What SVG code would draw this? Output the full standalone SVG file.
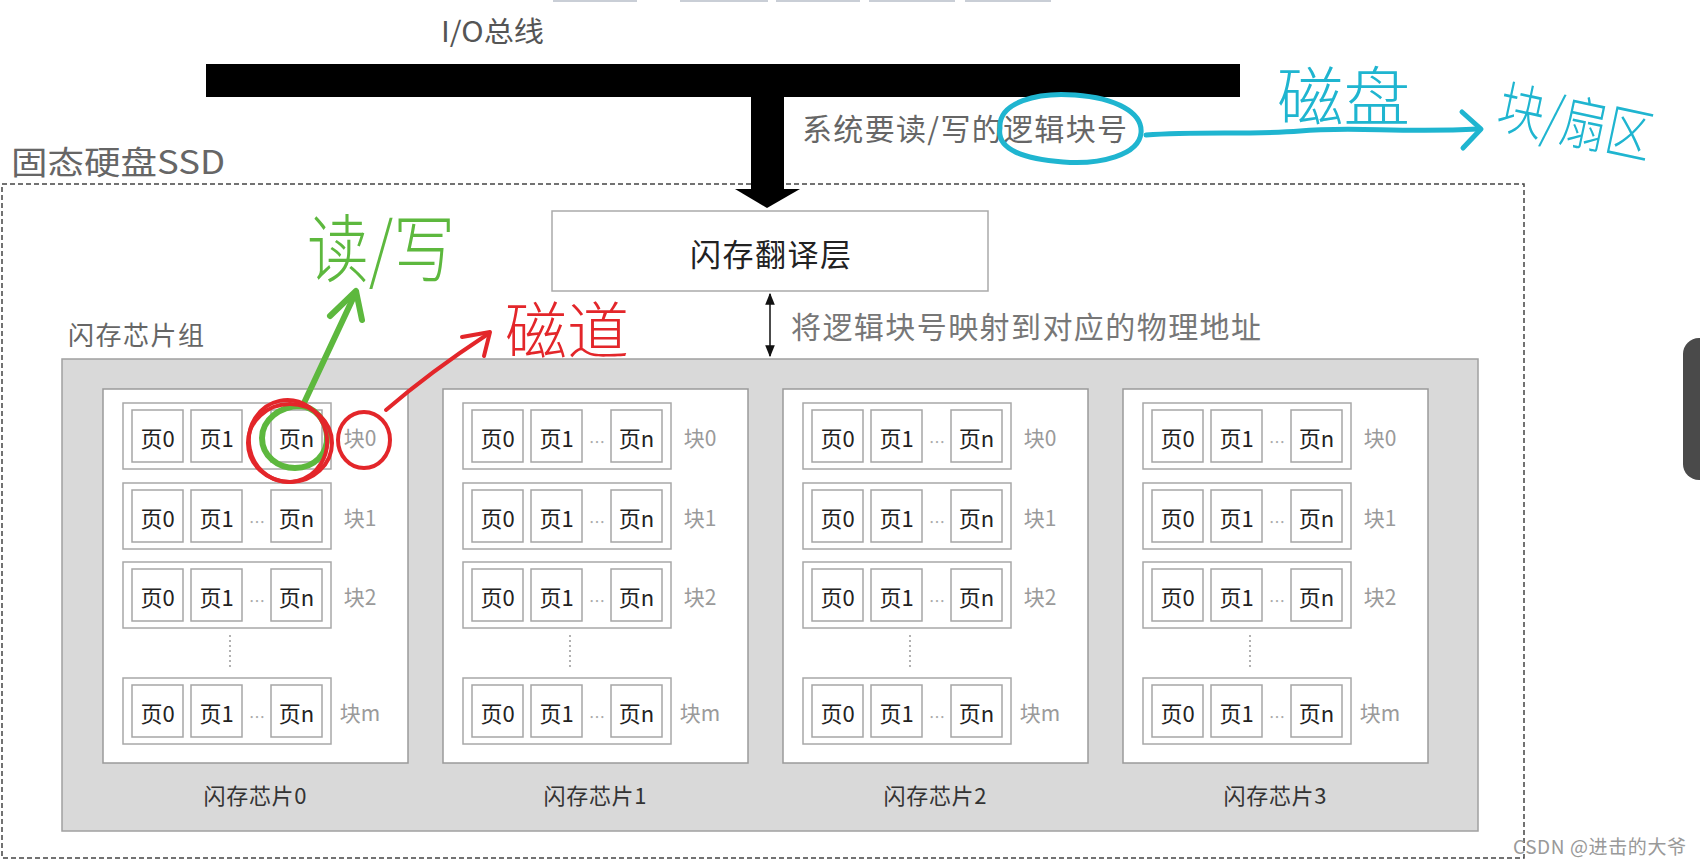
<svg xmlns="http://www.w3.org/2000/svg" width="1700" height="863" viewBox="0 0 1700 863">
<defs>
<style>
.cjk{font-family:"Noto Sans CJK SC","Noto Sans",sans-serif;dominant-baseline:central}
.pg{fill:#fff;stroke:#a6a6a6;stroke-width:1.5}
.blk{fill:#fff;stroke:#a8a8a8;stroke-width:1.5}
.chip{fill:#fff;stroke:#9a9a9a;stroke-width:1.5}
.pt{font-size:22px;fill:#222;text-anchor:middle}
.bt{font-size:21px;fill:#9a9a9a;text-anchor:middle}
.dots{font-size:16px;fill:#aaa;text-anchor:middle}
.ct{font-size:22px;fill:#333;text-anchor:middle}
.vd{stroke:#999;stroke-width:1.5;stroke-dasharray:2 3}
.hw{fill:none;stroke-linecap:round;stroke-linejoin:round}
.hwt{font-weight:300}
</style>
<marker id="ah" viewBox="0 0 10 10" refX="9" refY="5" markerWidth="8" markerHeight="8" orient="auto-start-reverse">
<path d="M0,1 L10,5 L0,9 Z" fill="#111"/>
</marker>
</defs>
<rect width="1700" height="863" fill="#fff"/>

<g id="topstrip" fill="#c9ced6">
<rect x="553" y="0" width="84" height="2"/>
<rect x="680" y="0" width="88" height="2"/>
<rect x="776" y="0" width="84" height="2"/>
<rect x="869" y="0" width="86" height="2"/>
<rect x="965" y="0" width="86" height="2"/>
</g>
<rect id="sidetab" x="1683" y="338" width="40" height="142" rx="16" fill="#4a4a4a"/>

<g id="iobus">
<text class="cjk" x="441" y="30" font-size="28" fill="#555" textLength="103" lengthAdjust="spacingAndGlyphs">I/O总线</text>
<rect x="206" y="64" width="1034" height="33" fill="#000"/>
</g>

<g id="ssd">
<text class="cjk" x="11" y="160" font-size="32" fill="#666" textLength="214" lengthAdjust="spacingAndGlyphs">固态硬盘SSD</text>
<rect x="2" y="184" width="1522" height="674" fill="none" stroke="#444" stroke-width="1.5" stroke-dasharray="5 3"/>
</g>

<g id="ftl">
<rect x="552" y="211" width="436" height="80" fill="#fff" stroke="#aaa" stroke-width="1.5"/>
<text class="cjk" x="690" y="252" font-size="31" fill="#222" textLength="161">闪存翻译层</text>
</g>

<g id="chipgroup">
<text class="cjk" x="68" y="333" font-size="26" fill="#666" textLength="136">闪存芯片组</text>
<rect x="62" y="359" width="1416" height="472" fill="#d9d9d9" stroke="#a0a0a0" stroke-width="1.5"/>
</g>

<g id="connectors">
<rect x="751" y="96" width="33" height="95" fill="#000"/>
<polygon points="735,189 800,189 767,208" fill="#000"/>
<line x1="770" y1="294" x2="770" y2="356" stroke="#111" stroke-width="1.5" marker-start="url(#ah)" marker-end="url(#ah)"/>
</g>
<text class="cjk" x="802" y="127" font-size="30" fill="#666" textLength="325">系统要读/写的逻辑块号</text>
<text class="cjk" x="791" y="325" font-size="30" fill="#777" textLength="470">将逻辑块号映射到对应的物理地址</text>

<g id="chip0">
<rect class="chip" x="103" y="389" width="305" height="374"/>
<rect class="blk" x="123" y="403" width="208" height="66"/>
<rect class="pg" x="132" y="410" width="51" height="52"/><rect class="pg" x="191" y="410" width="51" height="52"/><rect class="pg" x="271" y="410" width="51" height="52"/>
<text class="cjk pt" x="157.5" y="437">页0</text><text class="cjk pt" x="216.5" y="437">页1</text><text class="cjk pt" x="296.5" y="437">页n</text>
<text class="cjk bt" x="360" y="437">块0</text>
<rect class="blk" x="123" y="483" width="208" height="66"/>
<rect class="pg" x="132" y="490" width="51" height="52"/><rect class="pg" x="191" y="490" width="51" height="52"/><rect class="pg" x="271" y="490" width="51" height="52"/>
<text class="cjk pt" x="157.5" y="517">页0</text><text class="cjk pt" x="216.5" y="517">页1</text><text class="cjk pt" x="296.5" y="517">页n</text>
<text class="cjk dots" x="257" y="521">…</text><text class="cjk bt" x="360" y="517">块1</text>
<rect class="blk" x="123" y="562" width="208" height="66"/>
<rect class="pg" x="132" y="569" width="51" height="52"/><rect class="pg" x="191" y="569" width="51" height="52"/><rect class="pg" x="271" y="569" width="51" height="52"/>
<text class="cjk pt" x="157.5" y="596">页0</text><text class="cjk pt" x="216.5" y="596">页1</text><text class="cjk pt" x="296.5" y="596">页n</text>
<text class="cjk dots" x="257" y="600">…</text><text class="cjk bt" x="360" y="596">块2</text>
<line class="vd" x1="230" y1="635" x2="230" y2="668"/>
<rect class="blk" x="123" y="678" width="208" height="66"/>
<rect class="pg" x="132" y="685" width="51" height="52"/><rect class="pg" x="191" y="685" width="51" height="52"/><rect class="pg" x="271" y="685" width="51" height="52"/>
<text class="cjk pt" x="157.5" y="712">页0</text><text class="cjk pt" x="216.5" y="712">页1</text><text class="cjk pt" x="296.5" y="712">页n</text>
<text class="cjk dots" x="257" y="716">…</text><text class="cjk bt" x="360" y="712">块m</text>
<text class="cjk ct" x="255" y="794" textLength="103">闪存芯片0</text>
</g>

<g id="chip1">
<rect class="chip" x="443" y="389" width="305" height="374"/>
<rect class="blk" x="463" y="403" width="208" height="66"/>
<rect class="pg" x="472" y="410" width="51" height="52"/><rect class="pg" x="531" y="410" width="51" height="52"/><rect class="pg" x="611" y="410" width="51" height="52"/>
<text class="cjk pt" x="497.5" y="437">页0</text><text class="cjk pt" x="556.5" y="437">页1</text><text class="cjk pt" x="636.5" y="437">页n</text>
<text class="cjk dots" x="597" y="441">…</text><text class="cjk bt" x="700" y="437">块0</text>
<rect class="blk" x="463" y="483" width="208" height="66"/>
<rect class="pg" x="472" y="490" width="51" height="52"/><rect class="pg" x="531" y="490" width="51" height="52"/><rect class="pg" x="611" y="490" width="51" height="52"/>
<text class="cjk pt" x="497.5" y="517">页0</text><text class="cjk pt" x="556.5" y="517">页1</text><text class="cjk pt" x="636.5" y="517">页n</text>
<text class="cjk dots" x="597" y="521">…</text><text class="cjk bt" x="700" y="517">块1</text>
<rect class="blk" x="463" y="562" width="208" height="66"/>
<rect class="pg" x="472" y="569" width="51" height="52"/><rect class="pg" x="531" y="569" width="51" height="52"/><rect class="pg" x="611" y="569" width="51" height="52"/>
<text class="cjk pt" x="497.5" y="596">页0</text><text class="cjk pt" x="556.5" y="596">页1</text><text class="cjk pt" x="636.5" y="596">页n</text>
<text class="cjk dots" x="597" y="600">…</text><text class="cjk bt" x="700" y="596">块2</text>
<line class="vd" x1="570" y1="635" x2="570" y2="668"/>
<rect class="blk" x="463" y="678" width="208" height="66"/>
<rect class="pg" x="472" y="685" width="51" height="52"/><rect class="pg" x="531" y="685" width="51" height="52"/><rect class="pg" x="611" y="685" width="51" height="52"/>
<text class="cjk pt" x="497.5" y="712">页0</text><text class="cjk pt" x="556.5" y="712">页1</text><text class="cjk pt" x="636.5" y="712">页n</text>
<text class="cjk dots" x="597" y="716">…</text><text class="cjk bt" x="700" y="712">块m</text>
<text class="cjk ct" x="595" y="794" textLength="103">闪存芯片1</text>
</g>

<g id="chip2">
<rect class="chip" x="783" y="389" width="305" height="374"/>
<rect class="blk" x="803" y="403" width="208" height="66"/>
<rect class="pg" x="812" y="410" width="51" height="52"/><rect class="pg" x="871" y="410" width="51" height="52"/><rect class="pg" x="951" y="410" width="51" height="52"/>
<text class="cjk pt" x="837.5" y="437">页0</text><text class="cjk pt" x="896.5" y="437">页1</text><text class="cjk pt" x="976.5" y="437">页n</text>
<text class="cjk dots" x="937" y="441">…</text><text class="cjk bt" x="1040" y="437">块0</text>
<rect class="blk" x="803" y="483" width="208" height="66"/>
<rect class="pg" x="812" y="490" width="51" height="52"/><rect class="pg" x="871" y="490" width="51" height="52"/><rect class="pg" x="951" y="490" width="51" height="52"/>
<text class="cjk pt" x="837.5" y="517">页0</text><text class="cjk pt" x="896.5" y="517">页1</text><text class="cjk pt" x="976.5" y="517">页n</text>
<text class="cjk dots" x="937" y="521">…</text><text class="cjk bt" x="1040" y="517">块1</text>
<rect class="blk" x="803" y="562" width="208" height="66"/>
<rect class="pg" x="812" y="569" width="51" height="52"/><rect class="pg" x="871" y="569" width="51" height="52"/><rect class="pg" x="951" y="569" width="51" height="52"/>
<text class="cjk pt" x="837.5" y="596">页0</text><text class="cjk pt" x="896.5" y="596">页1</text><text class="cjk pt" x="976.5" y="596">页n</text>
<text class="cjk dots" x="937" y="600">…</text><text class="cjk bt" x="1040" y="596">块2</text>
<line class="vd" x1="910" y1="635" x2="910" y2="668"/>
<rect class="blk" x="803" y="678" width="208" height="66"/>
<rect class="pg" x="812" y="685" width="51" height="52"/><rect class="pg" x="871" y="685" width="51" height="52"/><rect class="pg" x="951" y="685" width="51" height="52"/>
<text class="cjk pt" x="837.5" y="712">页0</text><text class="cjk pt" x="896.5" y="712">页1</text><text class="cjk pt" x="976.5" y="712">页n</text>
<text class="cjk dots" x="937" y="716">…</text><text class="cjk bt" x="1040" y="712">块m</text>
<text class="cjk ct" x="935" y="794" textLength="103">闪存芯片2</text>
</g>

<g id="chip3">
<rect class="chip" x="1123" y="389" width="305" height="374"/>
<rect class="blk" x="1143" y="403" width="208" height="66"/>
<rect class="pg" x="1152" y="410" width="51" height="52"/><rect class="pg" x="1211" y="410" width="51" height="52"/><rect class="pg" x="1291" y="410" width="51" height="52"/>
<text class="cjk pt" x="1177.5" y="437">页0</text><text class="cjk pt" x="1236.5" y="437">页1</text><text class="cjk pt" x="1316.5" y="437">页n</text>
<text class="cjk dots" x="1277" y="441">…</text><text class="cjk bt" x="1380" y="437">块0</text>
<rect class="blk" x="1143" y="483" width="208" height="66"/>
<rect class="pg" x="1152" y="490" width="51" height="52"/><rect class="pg" x="1211" y="490" width="51" height="52"/><rect class="pg" x="1291" y="490" width="51" height="52"/>
<text class="cjk pt" x="1177.5" y="517">页0</text><text class="cjk pt" x="1236.5" y="517">页1</text><text class="cjk pt" x="1316.5" y="517">页n</text>
<text class="cjk dots" x="1277" y="521">…</text><text class="cjk bt" x="1380" y="517">块1</text>
<rect class="blk" x="1143" y="562" width="208" height="66"/>
<rect class="pg" x="1152" y="569" width="51" height="52"/><rect class="pg" x="1211" y="569" width="51" height="52"/><rect class="pg" x="1291" y="569" width="51" height="52"/>
<text class="cjk pt" x="1177.5" y="596">页0</text><text class="cjk pt" x="1236.5" y="596">页1</text><text class="cjk pt" x="1316.5" y="596">页n</text>
<text class="cjk dots" x="1277" y="600">…</text><text class="cjk bt" x="1380" y="596">块2</text>
<line class="vd" x1="1250" y1="635" x2="1250" y2="668"/>
<rect class="blk" x="1143" y="678" width="208" height="66"/>
<rect class="pg" x="1152" y="685" width="51" height="52"/><rect class="pg" x="1211" y="685" width="51" height="52"/><rect class="pg" x="1291" y="685" width="51" height="52"/>
<text class="cjk pt" x="1177.5" y="712">页0</text><text class="cjk pt" x="1236.5" y="712">页1</text><text class="cjk pt" x="1316.5" y="712">页n</text>
<text class="cjk dots" x="1277" y="716">…</text><text class="cjk bt" x="1380" y="712">块m</text>
<text class="cjk ct" x="1275" y="794" textLength="103">闪存芯片3</text>
</g>

<text class="cjk" x="1513" y="845" font-size="19" fill="#999" textLength="173">CSDN @进击的大爷</text>

<g id="annotations">
<g stroke="#1fb5d0" stroke-width="5" class="hw">
<path d="M1000,128 C998,102 1038,92 1075,95 C1115,98 1143,112 1141,133 C1139,155 1100,165 1063,162 C1025,159 996,150 1000,128 Z"/>
<path d="M1146,135 C1200,131 1250,135 1300,131 C1350,126 1400,133 1478,129"/>
<path d="M1462,112 L1481,129 L1463,148"/>
</g>
<text class="cjk hwt" x="1277" y="92" font-size="64" fill="#1fb5d0" textLength="133" lengthAdjust="spacingAndGlyphs">磁盘</text>
<text class="cjk hwt" x="1500" y="102" font-size="58" fill="#1fb5d0" textLength="156" lengthAdjust="spacingAndGlyphs" transform="rotate(12 1500 102)">块/扇区</text>

<g stroke="#5db83e" stroke-width="6" class="hw">
<path d="M300,406 C280,406 262,420 262,438 C262,456 278,468 295,468 C314,468 328,454 327,436 C326,420 315,407 300,406"/>
<path d="M304,403 L356,292"/>
<path d="M330,316 L356,291 L362,320"/>
</g>
<text class="cjk hwt" x="307" y="243" font-size="74" fill="#5db83e" textLength="148" lengthAdjust="spacingAndGlyphs">读/写</text>

<g stroke="#e3262a" stroke-width="4" class="hw">
<ellipse cx="290" cy="443" rx="42" ry="39"/>
<ellipse cx="288" cy="441" rx="39" ry="41" transform="rotate(-12 288 441)"/>
<ellipse cx="364" cy="440" rx="26" ry="28"/>
<path d="M386,410 Q430,372 488,334"/>
<path d="M462,337 L490,332 L484,356"/>
</g>
<text class="cjk hwt" x="505" y="327" font-size="62" fill="#e3262a" textLength="124" lengthAdjust="spacingAndGlyphs">磁道</text>
</g>
</svg>
